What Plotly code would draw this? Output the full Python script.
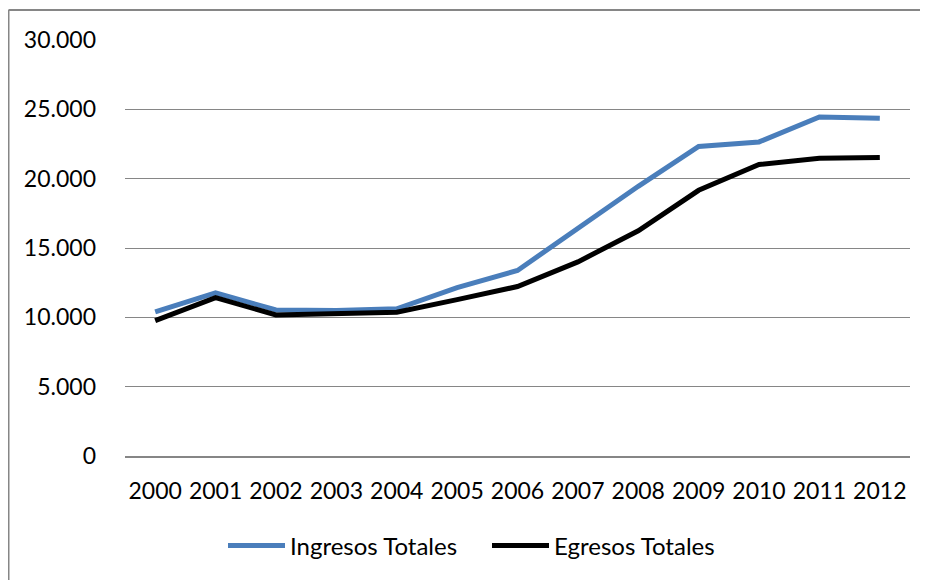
import plotly.graph_objects as go

years = ["2000", "2001", "2002", "2003", "2004", "2005", "2006",
         "2007", "2008", "2009", "2010", "2011", "2012"]
ingresos = [10400, 11770, 10530, 10500, 10620, 12150, 13380,
            16450, 19450, 22320, 22650, 24450, 24350]
egresos = [9760, 11420, 10170, 10230, 10370, 11280, 12220,
           14000, 16240, 19160, 21020, 21480, 21530]
y_ticks = [0, 5000, 10000, 15000, 20000, 25000, 30000]

FONT = "Lato"
OFF = 8  # page body margin
PL, PR, PT, PB = 125 - OFF, 910 - OFF, 40 - OFF, 456 - OFF
W, H = 928 - OFF, 580 - OFF
PW, PH = PR - PL, PB - PT


def px(xp):
    return (xp - OFF - PL) / PW


def py(yp):
    return (PB - (yp - OFF)) / PH


fig = go.Figure()
fig.add_trace(go.Scatter(x=years, y=ingresos, mode="lines", name="Ingresos Totales",
                         line=dict(color="#4A7EBB", width=5)))
fig.add_trace(go.Scatter(x=years, y=egresos, mode="lines", name="Egresos Totales",
                         line=dict(color="#000000", width=5)))

fig.update_layout(
    width=W, height=H,
    margin=dict(l=PL, r=W - PR, t=PT, b=H - PB, autoexpand=False),
    paper_bgcolor="white", plot_bgcolor="white",
    separators=",.",
    font=dict(family=FONT, size=23, color="#000000"),
    showlegend=True,
    legend=dict(orientation="h", x=px(223), xanchor="left", y=py(546), yanchor="middle",
                font=dict(family=FONT, size=24), itemwidth=57, entrywidth=192,
                bgcolor="rgba(0,0,0,0)"),
    xaxis=dict(type="category", range=[-0.5, 12.5], showgrid=False,
               showline=True, linecolor="#868686", linewidth=1.5,
               ticks="", ticklabelstandoff=14, fixedrange=True),
    yaxis=dict(range=[0, 30000], tickvals=y_ticks, tickformat=",.0f",
               showgrid=True, gridcolor="#868686", gridwidth=1.2,
               zeroline=False, showline=False, ticks="",
               ticklabelstandoff=28, fixedrange=True),
    shapes=[
        dict(type="line", xref="paper", yref="paper",
             x0=px(8.5), x1=px(8.5), y0=py(10), y1=py(620),
             line=dict(color="#868686", width=2)),
        dict(type="line", xref="paper", yref="paper",
             x0=px(8.5), x1=px(960), y0=py(10), y1=py(10),
             line=dict(color="#868686", width=2)),
    ],
)

fig.write_html("out.html")
